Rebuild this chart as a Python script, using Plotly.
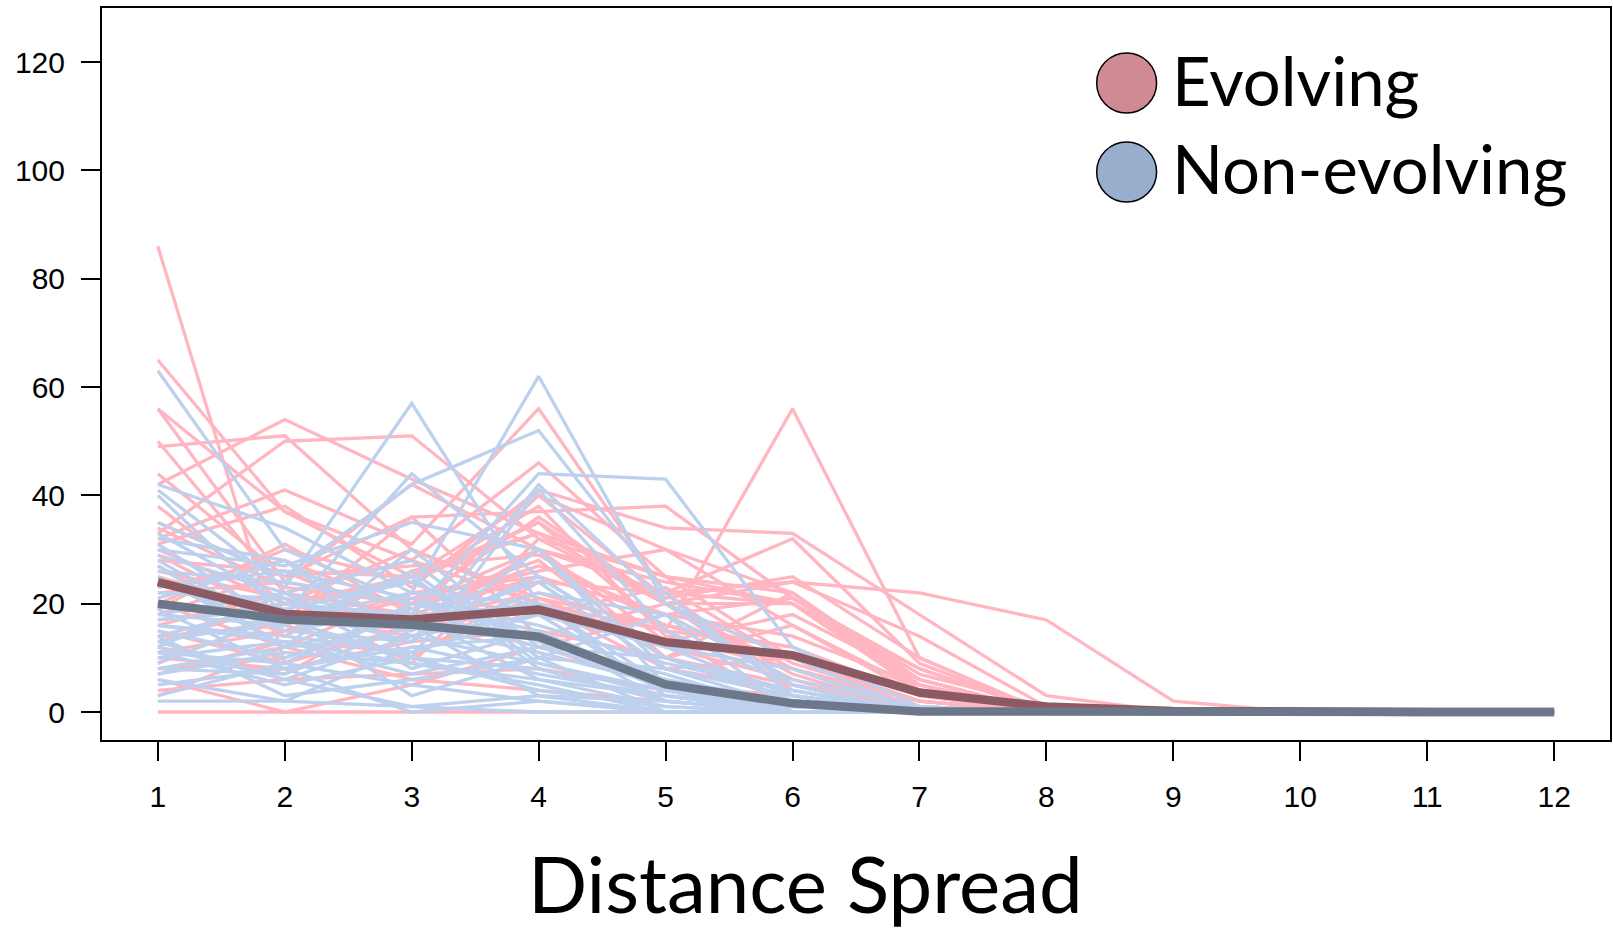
import plotly.graph_objects as go

DISTANCE = [1, 2, 3, 4, 5, 6, 7, 8, 9, 10, 11, 12]
Y_TICKS = [0, 20, 40, 60, 80, 100, 120]
X_TITLE = "Distance Spread"
LEGEND_LABELS = ["Evolving", "Non-evolving"]

def pad(v):
    return list(v) + [0] * (12 - len(v))

EVOLVING = [pad(v) for v in [
    [86, 9, 20, 30, 10, 5, 0],
    [65, 37, 25, 35, 20, 8, 0],
    [56, 24, 42, 30, 22, 20, 5, 0],
    [56, 37, 28, 46, 25, 10, 2, 0],
    [50, 22, 18, 40, 30, 22, 6, 0],
    [49, 51, 30, 20, 15, 0, 0],
    [44, 25, 36, 37, 38, 21, 8, 0],
    [42, 54, 43, 33, 20, 10, 0],
    [33, 50, 51, 32, 25, 22, 5, 0],
    [32, 41, 31, 56, 22, 24, 22, 17, 2, 0],
    [31, 38, 23, 41, 34, 33, 18, 3, 0],
    [30, 20, 24, 35, 15, 56, 10, 0],
    [28, 26, 25, 40, 21, 25, 10, 0],
    [27, 14, 26, 33, 20, 20, 6, 0],
    [25, 18, 15, 30, 22, 32, 9, 0],
    [22, 24, 20, 28, 10, 22, 4, 0],
    [20, 12, 22, 25, 18, 21, 7, 1, 0],
    [16, 22, 28, 20, 8, 10, 2, 0],
    [15, 9, 16, 30, 24, 20, 4, 0],
    [13, 20, 30, 21, 12, 6, 0],
    [9, 18, 14, 21, 16, 12, 3, 0],
    [8, 10, 18, 12, 5, 3, 0],
    [4, 6, 7, 8, 4, 0],
    [0, 0, 0, 0, 0, 0],
    [29, 17, 36, 14, 20, 4, 0],
    [34, 23, 20, 24, 22, 5, 1, 0],
    [18, 26, 16, 30, 13, 18, 6, 0],
    [24, 15, 21, 26, 30, 16, 3, 0],
    [12, 7, 20, 36, 20, 24, 14, 1, 0],
    [6, 0, 5, 12, 18, 6, 0],
    [20, 30, 24, 38, 14, 8, 2, 0],
    [14, 16, 10, 24, 8, 4, 0],
    [10, 8, 13, 15, 10, 5, 0],
    [26, 21, 9, 32, 20, 7, 0],
    [3, 12, 6, 4, 2, 0],
    [38, 20, 17, 22, 15, 12, 0],
    [23, 28, 19, 27, 18, 14, 5, 0],
    [17, 20, 25, 33, 25, 20, 8, 0],
    [35, 25, 27, 29, 16, 10, 0],
    [11, 15, 22, 18, 23, 9, 2, 0],
    [19, 31, 18, 25, 10, 16, 4, 0],
    [7, 13, 11, 20, 12, 8, 1, 0],
]]

NON_EVOLVING = [pad(v) for v in [
    [63, 30, 20, 15, 5, 2, 0],
    [42, 34, 22, 62, 20, 5, 0],
    [41, 23, 57, 20, 5, 0],
    [40, 18, 44, 25, 10, 2, 0],
    [35, 25, 42, 52, 22, 3, 0],
    [33, 20, 18, 44, 43, 12, 1, 0],
    [32, 28, 10, 41, 15, 5, 0],
    [30, 27, 35, 30, 8, 3, 0],
    [29, 22, 28, 10, 18, 0],
    [28, 15, 13, 42, 20, 10, 0],
    [26, 24, 20, 18, 4, 1, 0],
    [25, 12, 30, 12, 6, 0],
    [22, 21, 15, 25, 10, 2, 0],
    [20, 17, 22, 20, 3, 1, 0],
    [19, 8, 12, 14, 4, 0],
    [18, 16, 25, 8, 2, 0],
    [16, 14, 11, 18, 12, 8, 0],
    [15, 10, 18, 6, 1, 0],
    [14, 20, 16, 11, 5, 0],
    [13, 6, 14, 9, 3, 0],
    [12, 22, 8, 15, 2, 0],
    [11, 5, 10, 4, 1, 0],
    [10, 13, 7, 12, 6, 2, 0],
    [9, 18, 3, 10, 0],
    [8, 7, 16, 3, 2, 0],
    [7, 11, 9, 5, 0],
    [6, 2, 12, 7, 3, 0],
    [3, 9, 5, 2, 0],
    [2, 2, 1, 0, 0],
    [23, 26, 21, 16, 9, 4, 0],
    [17, 19, 24, 13, 7, 0],
    [27, 12, 17, 20, 12, 3, 0],
    [21, 28, 14, 22, 18, 6, 1, 0],
    [12, 6, 1, 3, 0],
    [31, 16, 26, 9, 4, 0],
    [5, 8, 0, 2, 0],
    [14, 3, 6, 10, 8, 1, 0],
    [24, 19, 13, 30, 5, 2, 0],
    [18, 22, 16, 24, 8, 3, 0],
    [11, 9, 20, 14, 6, 0],
    [16, 13, 9, 6, 3, 0],
    [24, 15, 19, 12, 10, 4, 0],
    [8, 12, 14, 18, 4, 0],
    [13, 17, 10, 8, 2, 0],
]]

EVOLVING_MEAN = [24.0, 18.1, 17.1, 18.9, 12.9, 10.5, 3.6, 1.0, 0.2, 0, 0, 0]
NON_EVOLVING_MEAN = [20.0, 17.1, 16.1, 13.9, 5.1, 1.6, 0.1, 0, 0, 0, 0, 0]

PINK = "#FFB6C1"
LIGHT_BLUE = "#BDD1EE"
EVO_MEAN_COLOR = "#8B5A62"
NON_MEAN_COLOR = "#6C7789"
LEGEND_COLORS = ["#D08A93", "#98AECD"]

fig = go.Figure()
for s in EVOLVING:
    fig.add_trace(go.Scatter(x=DISTANCE, y=s, mode="lines",
                             line=dict(color=PINK, width=3.3),
                             hoverinfo="skip", showlegend=False))
for s in NON_EVOLVING:
    fig.add_trace(go.Scatter(x=DISTANCE, y=s, mode="lines",
                             line=dict(color=LIGHT_BLUE, width=3.3),
                             hoverinfo="skip", showlegend=False))
fig.add_trace(go.Scatter(x=DISTANCE, y=EVOLVING_MEAN, mode="lines",
                         line=dict(color=EVO_MEAN_COLOR, width=8.5),
                         name="Evolving mean", showlegend=False))
fig.add_trace(go.Scatter(x=DISTANCE, y=NON_EVOLVING_MEAN, mode="lines",
                         line=dict(color=NON_MEAN_COLOR, width=8.5),
                         name="Non-evolving mean", showlegend=False))

W, H = 1613, 929
ML, MR, MT, MB = 102, 1, 8, 189
PW, PH = W - ML - MR, H - MT - MB

# legend (drawn as shapes + text)
leg_cx = 1128
leg_cy = [83, 172]
text_cy = [80, 168]
rad = 30
for cy, ty, col, lab in zip(leg_cy, text_cy, LEGEND_COLORS, LEGEND_LABELS):
    x0 = (leg_cx - rad - ML) / PW
    x1 = (leg_cx + rad - ML) / PW
    y0 = (MT + PH - (cy + rad)) / PH
    y1 = (MT + PH - (cy - rad)) / PH
    fig.add_shape(type="circle", xref="paper", yref="paper",
                  x0=x0, x1=x1, y0=y0, y1=y1,
                  fillcolor=col, line=dict(color="black", width=1.5))
    fig.add_annotation(x=(1171 - ML) / PW, y=(MT + PH - ty) / PH,
                       xref="paper", yref="paper", xanchor="left", yanchor="middle",
                       text=lab, showarrow=False,
                       font=dict(family="Lato", size=67, color="black"))

fig.add_annotation(x=(806 - ML) / PW, y=(MT + PH - 883) / PH,
                   xref="paper", yref="paper", xanchor="center", yanchor="middle",
                   text=X_TITLE, showarrow=False,
                   font=dict(family="Lato", size=78, color="black"))

axis_common = dict(showgrid=False, zeroline=False, showline=True, linecolor="black",
                   linewidth=2, mirror=True, ticks="outside", ticklen=19,
                   tickwidth=2, tickcolor="black", ticklabelstandoff=10,
                   tickfont=dict(family="Liberation Sans", size=30, color="black"))

fig.update_xaxes(range=[0.56, 12.44], tickvals=DISTANCE,
                 ticktext=[str(d) for d in DISTANCE], **axis_common)
fig.update_yaxes(range=[-5.17, 130], tickvals=Y_TICKS,
                 ticktext=[str(t) for t in Y_TICKS], **axis_common)

fig.update_layout(width=W, height=H, margin=dict(l=ML, r=MR, t=MT, b=MB),
                  plot_bgcolor="white", paper_bgcolor="white", showlegend=False)

fig.write_html("out.html", config={"displayModeBar": False},
               post_script="document.body.style.margin='0';")
